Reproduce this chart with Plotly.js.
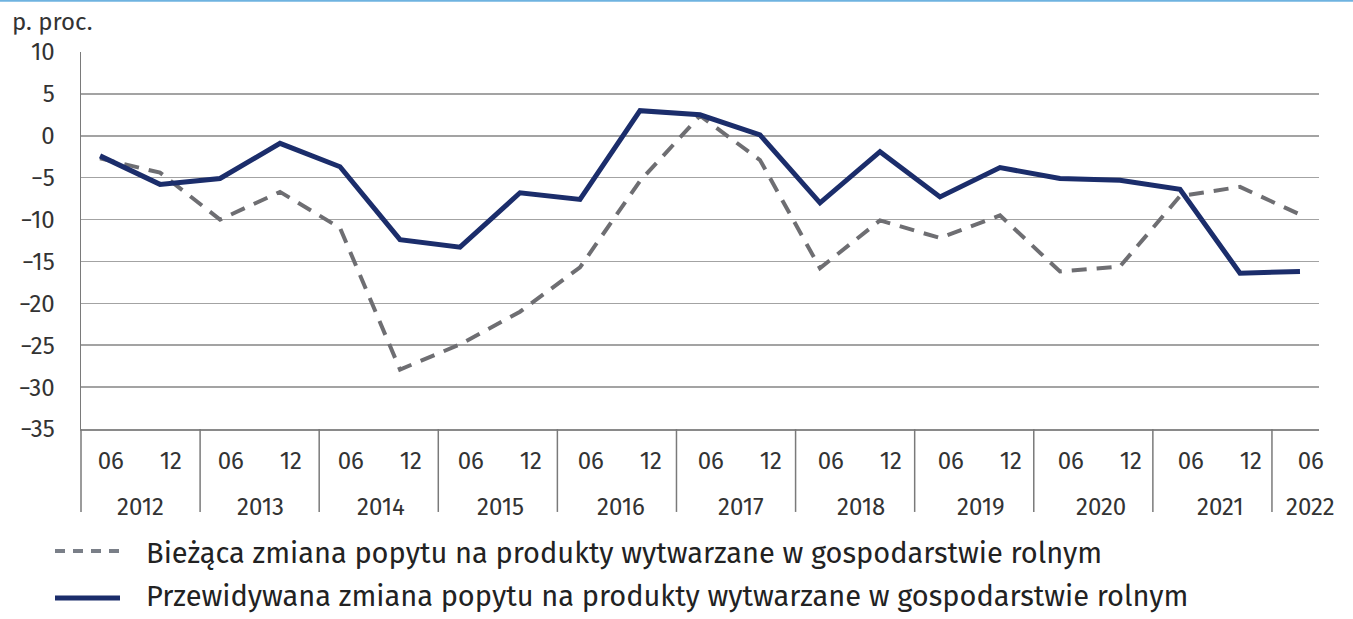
<!DOCTYPE html>
<html>
<head>
<meta charset="utf-8">
<script src="https://cdn.plot.ly/plotly-3.0.1.min.js"></script>
<style>html,body{margin:0;padding:0;background:#fff;}#chart{width:1353px;height:619px;}</style>
</head>
<body>
<div id="chart"></div>
<script>
// ---- data ----
const years = ["2012","2013","2014","2015","2016","2017","2018","2019","2020","2021","2022"];
const months = ["06","12","06","12","06","12","06","12","06","12","06","12","06","12","06","12","06","12","06","12","06"];
const biezaca = [-2.7,-4.4,-10.0,-6.7,-11.0,-27.9,-24.9,-21.0,-15.7,-5.4,2.4,-2.9,-15.8,-10.1,-12.2,-9.5,-16.2,-15.6,-7.2,-6.1,-9.4];
const przewidywana = [-2.4,-5.8,-5.1,-0.9,-3.7,-12.4,-13.3,-6.8,-7.6,3.0,2.5,0.1,-8.0,-1.9,-7.3,-3.8,-5.1,-5.3,-6.4,-16.4,-16.2];
const nameB = "Bieżąca zmiana popytu na produkty wytwarzane w gospodarstwie rolnym";
const nameP = "Przewidywana zmiana popytu na produkty wytwarzane w gospodarstwie rolnym";
const yUnit = "p. proc.";

const FONT = "Fira Sans, Noto Sans, Open Sans, sans-serif";
const colB = "#6e6e72", colP = "#1b2d6b";
const idx = months.map((m, i) => i);
const xmin = -0.317, xmax = 20.317, yearW = 1.985;

const traces = [
  {x: idx, y: biezaca, name: nameB, type: "scatter", mode: "lines", showlegend: false,
   line: {color: colB, width: 4, dash: "15px,10px"}},
  {x: idx, y: przewidywana, name: nameP, type: "scatter", mode: "lines", showlegend: false,
   line: {color: colP, width: 5}}
];

const shapes = [];
const annotations = [];
// left axis extension into label area
shapes.push({type: "line", xref: "paper", yref: "paper", x0: 0, x1: 0, y0: 0, y1: -0.22,
  line: {color: "#7a7a7a", width: 1.5}});
// year separators and labels
years.forEach((yr, k) => {
  if (k > 0) {
    const xs = xmin + yearW * k;
    shapes.push({type: "line", xref: "x", yref: "paper", x0: xs, x1: xs, y0: 0, y1: -0.22,
      line: {color: "#7a7a7a", width: 1.5}});
  }
  const first = 2 * k, last = Math.min(2 * k + 1, months.length - 1);
  annotations.push({xref: "x", yref: "paper", x: (first + last) / 2 + 0.18, y: -0.207,
    xanchor: "center", yanchor: "middle", showarrow: false, text: yr,
    font: {family: FONT, size: 24, color: "#333"}});
});
// top page rule
shapes.push({type: "line", xref: "paper", yref: "paper", x0: -0.07, x1: 1.03, y0: 1.136, y1: 1.136,
  line: {color: "#6fb3e0", width: 2}});
annotations.push({xref: "paper", yref: "paper", x: -0.0574, y: 1.079, xanchor: "left", yanchor: "middle",
  showarrow: false, text: yUnit, font: {family: FONT, size: 24, color: "#333"}});

// legend (drawn manually for exact placement)
const legendItems = [
  {name: nameB, color: "#7a7f88", width: 4, dash: "10px,8px", y: -0.3236, ty: -0.329},
  {name: nameP, color: colP, width: 5, dash: "solid", y: -0.448, ty: -0.4456}
];
legendItems.forEach(it => {
  shapes.push({type: "line", xref: "paper", yref: "paper", x0: -0.021, x1: 0.0315, y0: it.y, y1: it.y,
    line: {color: it.color, width: it.width, dash: it.dash}});
  annotations.push({xref: "paper", yref: "paper", x: 0.0517, y: it.ty, xanchor: "left", yanchor: "middle",
    showarrow: false, borderpad: 0, text: it.name, font: {family: FONT, size: 29, color: "#222"}});
});

const layout = {
  width: 1353, height: 619,
  margin: {l: 81, r: 34, t: 52, b: 190},
  paper_bgcolor: "#fff", plot_bgcolor: "#fff",
  font: {family: FONT, color: "#333"},
  showlegend: false,
  xaxis: {range: [xmin, xmax], showgrid: false, zeroline: false,
    tickmode: "array", tickvals: idx.map(i => i + 0.18), ticktext: months,
    ticks: "", ticklabelstandoff: 10, tickfont: {family: FONT, size: 24, color: "#333"},
    showline: true, linecolor: "#8a8a8a", linewidth: 1.5},
  yaxis: {range: [-35, 10], tick0: 10, dtick: 5, showgrid: true, gridcolor: "#a3a3a3", gridwidth: 1.5,
    zeroline: false, showline: true, linecolor: "#7a7a7a", linewidth: 1.5,
    ticks: "", ticklabelstandoff: 20, tickfont: {family: FONT, size: 24, color: "#333"}},
  shapes: shapes,
  annotations: annotations
};

Plotly.newPlot("chart", traces, layout, {staticPlot: true, displayModeBar: false});
</script>
</body>
</html>
